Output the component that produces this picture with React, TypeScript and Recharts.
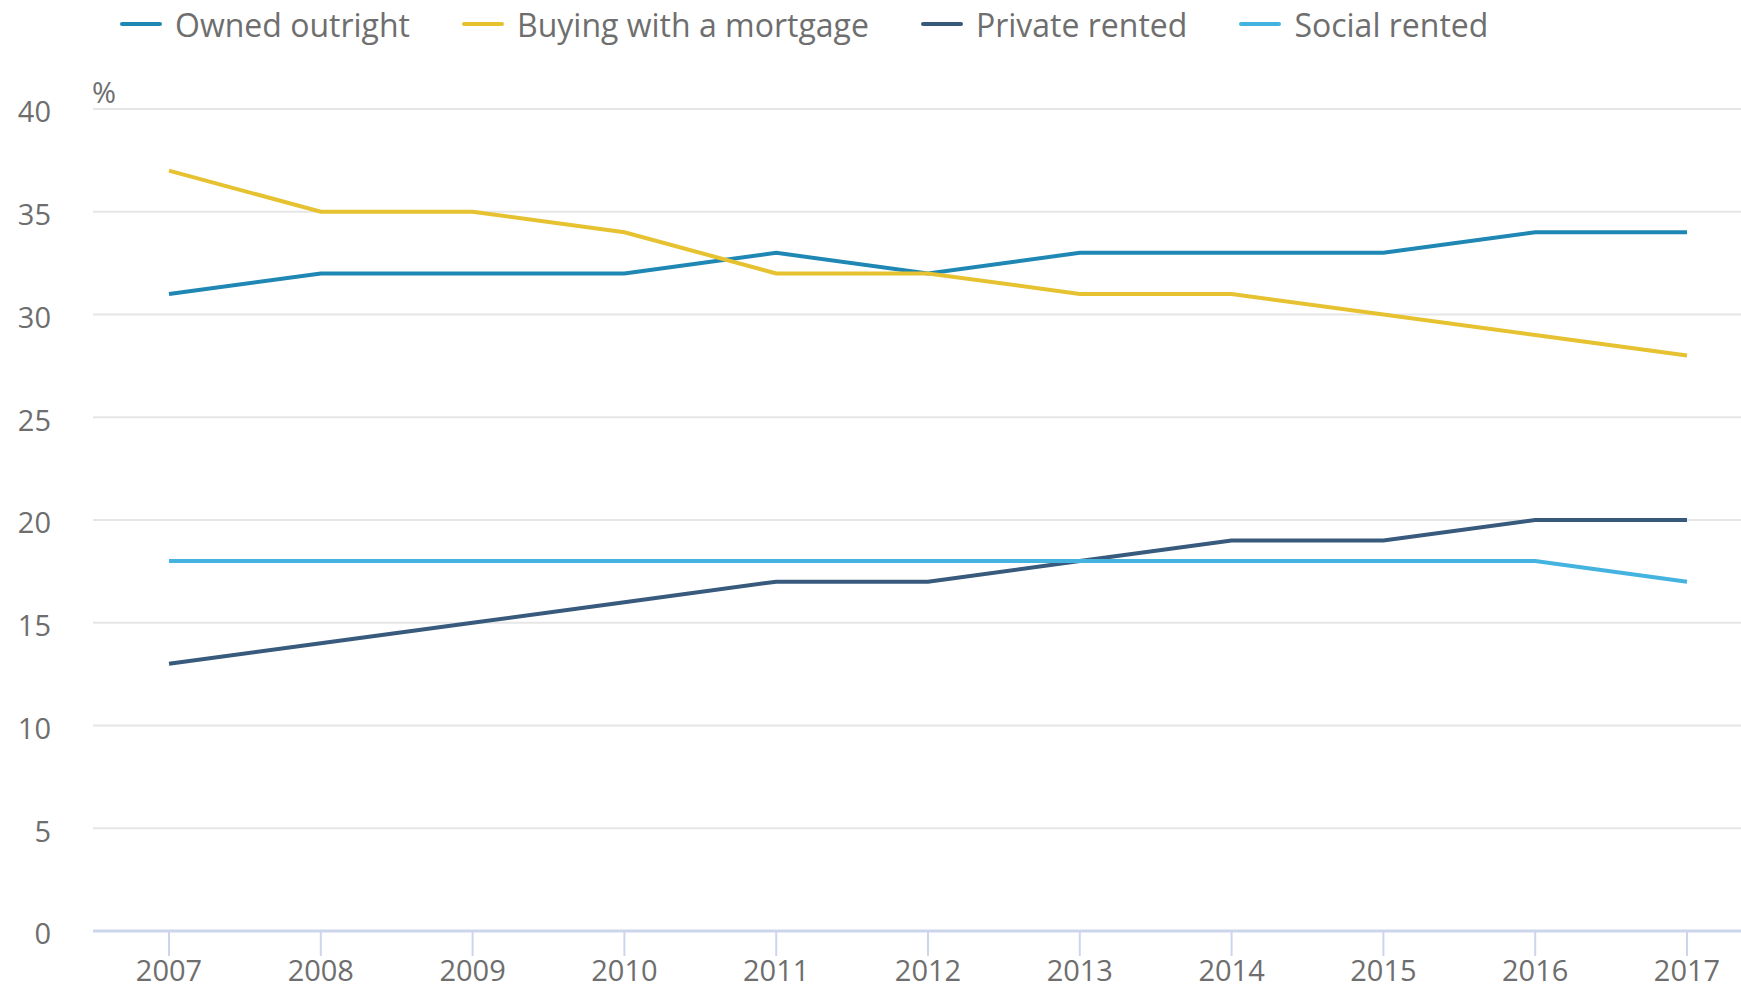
import React from 'react';
import { LineChart, Line, XAxis, YAxis, CartesianGrid } from 'recharts';

const years = ['2007', '2008', '2009', '2010', '2011', '2012', '2013', '2014', '2015', '2016', '2017'];
const ownedOutright = [31, 32, 32, 32, 33, 32, 33, 33, 33, 34, 34];
const buyingWithMortgage = [37, 35, 35, 34, 32, 32, 31, 31, 30, 29, 28];
const privateRented = [13, 14, 15, 16, 17, 17, 18, 19, 19, 20, 20];
const socialRented = [18, 18, 18, 18, 18, 18, 18, 18, 18, 18, 17];
const yTicks = [0, 5, 10, 15, 20, 25, 30, 35, 40];

const series = [
  { key: 'owned', name: 'Owned outright', color: '#1e87b3', values: ownedOutright },
  { key: 'mortgage', name: 'Buying with a mortgage', color: '#e6c130', values: buyingWithMortgage },
  { key: 'private', name: 'Private rented', color: '#375a7d', values: privateRented },
  { key: 'social', name: 'Social rented', color: '#45b3e0', values: socialRented },
];

const data = years.map((year, i) => {
  const row: Record<string, string | number> = { year };
  series.forEach(s => { row[s.key] = s.values[i]; });
  return row;
});

const FONT = '"Open Sans", sans-serif';
const TEXT = '#6e6e6e';

export default function App() {
  return (
    <div style={{ position: 'absolute', left: 0, top: 0, width: 1741, height: 985, background: '#fff', fontFamily: FONT, overflow: 'hidden' }}>
      {/* legend */}
      <div style={{ position: 'absolute', left: 120, top: 2, display: 'flex', gap: 52, alignItems: 'center', height: 44 }}>
        {series.map(s => (
          <div key={s.key} style={{ display: 'flex', alignItems: 'center', gap: 13 }}>
            <div style={{ width: 42, height: 4, background: s.color, borderRadius: 2 }} />
            <span style={{ fontSize: 32, color: TEXT, whiteSpace: 'nowrap' }}>{s.name}</span>
          </div>
        ))}
      </div>
      <div style={{ position: 'absolute', left: 92, top: 72, fontSize: 29, color: TEXT }}>%</div>

      <LineChart width={1741} height={985} data={data} margin={{ top: 109, right: 0, bottom: 0, left: 0 }}>
        <CartesianGrid vertical={false} stroke="#e6e6e6" strokeWidth={2} />
        <XAxis
          dataKey="year"
          padding={{ left: 76, right: 54 }}
          height={54}
          axisLine={{ stroke: '#ccd6eb', strokeWidth: 3 }}
          tickLine={{ stroke: '#ccd6eb', strokeWidth: 2 }}
          tickSize={25}
          tickMargin={4}
          tick={{ fill: TEXT, fontSize: 29, fontFamily: FONT }}
        />
        <YAxis
          domain={[0, 40]}
          ticks={yTicks}
          width={93}
          axisLine={false}
          tickLine={false}
          tickSize={0}
          tickMargin={42}
          tick={{ fill: TEXT, fontSize: 29, fontFamily: FONT, dy: 3 }}
        />
        {series.map(s => (
          <Line
            key={s.key}
            type="linear"
            dataKey={s.key}
            name={s.name}
            stroke={s.color}
            strokeWidth={4}
            dot={false}
            activeDot={false}
            isAnimationActive={false}
          />
        ))}
      </LineChart>
    </div>
  );
}
